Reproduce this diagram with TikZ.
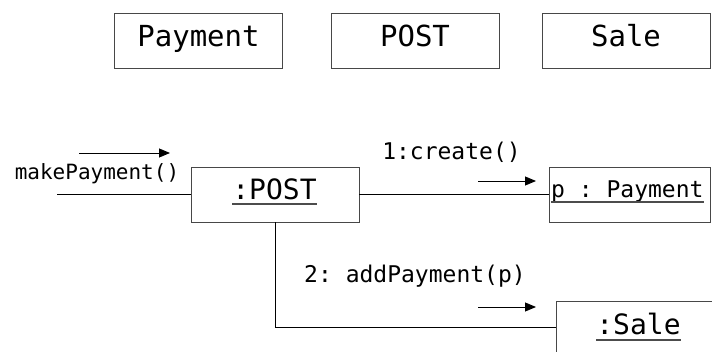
\documentclass[tikz,border=0pt]{standalone}
\usepackage{fontspec}
\setmonofont{DejaVu Sans Mono}
\usetikzlibrary{arrows.meta}

\tikzset{
  classbox/.style={draw=black!72, line width=0.9pt, minimum width=168pt,
    minimum height=55pt, inner sep=0pt},
  objbox/.style={draw=black!72, line width=0.9pt, minimum height=55pt, inner sep=0pt},
  objname/.style={inner sep=0pt, anchor=base, font=\ttfamily\fontsize{28}{28}\selectfont},
  classname/.style={inner sep=0pt, anchor=base, font=\ttfamily\fontsize{29}{29}\selectfont},
  msg/.style={inner sep=0pt, anchor=base, font=\ttfamily\fontsize{23}{23}\selectfont},
  link/.style={line width=0.9pt, black},
  flow/.style={line width=0.9pt, black, -{Triangle[length=11pt,width=9pt]}},
  uline/.style={line width=1.4pt, black!70}
}

\begin{document}
\begin{tikzpicture}[x=1pt,y=-1pt]
  \useasboundingbox (0,0) rectangle (712,352);
  \clip (0,0) rectangle (712,352);

  % class boxes along the top
  \node[classbox] (cPayment) at (198.5,40.5) {};
  \node[classbox] (cPost)    at (415,40.5) {};
  \node[classbox] (cSale)    at (626,40.5) {};
  \node[classname] (tPayment) at (198.5,47) {Payment};
  \node[classname] (tPost)    at (415,47) {POST};
  \node[classname] (tSale)    at (626,47) {Sale};

  % object boxes of the collaboration
  \node[objbox, minimum width=168pt] (post) at (275,194.5) {};
  \node[objbox, minimum width=161pt] (pay)  at (629.5,194.5) {};
  \node[objbox, minimum width=168pt, minimum height=52pt] (sale) at (640,327) {};

  \node[objname] (postName) at (274.5,200) {:POST};
  \node[objname, anchor=base west, font=\ttfamily\fontsize{23}{23}\selectfont] (payName) at (551,198) {p : Payment};
  \node[objname] (saleName) at (638.5,335) {:Sale};

  % underlined instance names
  \draw[uline] ([yshift=-4pt]postName.base west) -- ([yshift=-4pt]postName.base east);
  \draw[uline] ([yshift=-4pt]payName.base west) -- ([yshift=-4pt]payName.base east);
  \draw[uline] ([yshift=-5pt]saleName.base west) -- ([yshift=-5pt]saleName.base east);

  % links between the objects
  \coordinate (inStart) at (57,194.5);
  \draw[link] (inStart) -- (post.west);
  \draw[link] (post.east) -- (pay.west);
  \draw[link] (post.south) |- (sale.west);

  % messages
  \node[msg, font=\ttfamily\fontsize{21}{21}\selectfont] (mMake) at (97,180) {makePayment()};
  \node[msg] (mCreate) at (451.5,160) {1:create()};
  \node[msg] (mAdd) at (415,283) {2: addPayment(p)};

  \coordinate (a1s) at (79,153);  \coordinate (a1e) at (170,153);
  \coordinate (a2s) at (478,181); \coordinate (a2e) at (536,181);
  \coordinate (a3s) at (478,307); \coordinate (a3e) at (536,307);
  \draw[flow] (a1s) -- (a1e);
  \draw[flow] (a2s) -- (a2e);
  \draw[flow] (a3s) -- (a3e);
\end{tikzpicture}
\end{document}
